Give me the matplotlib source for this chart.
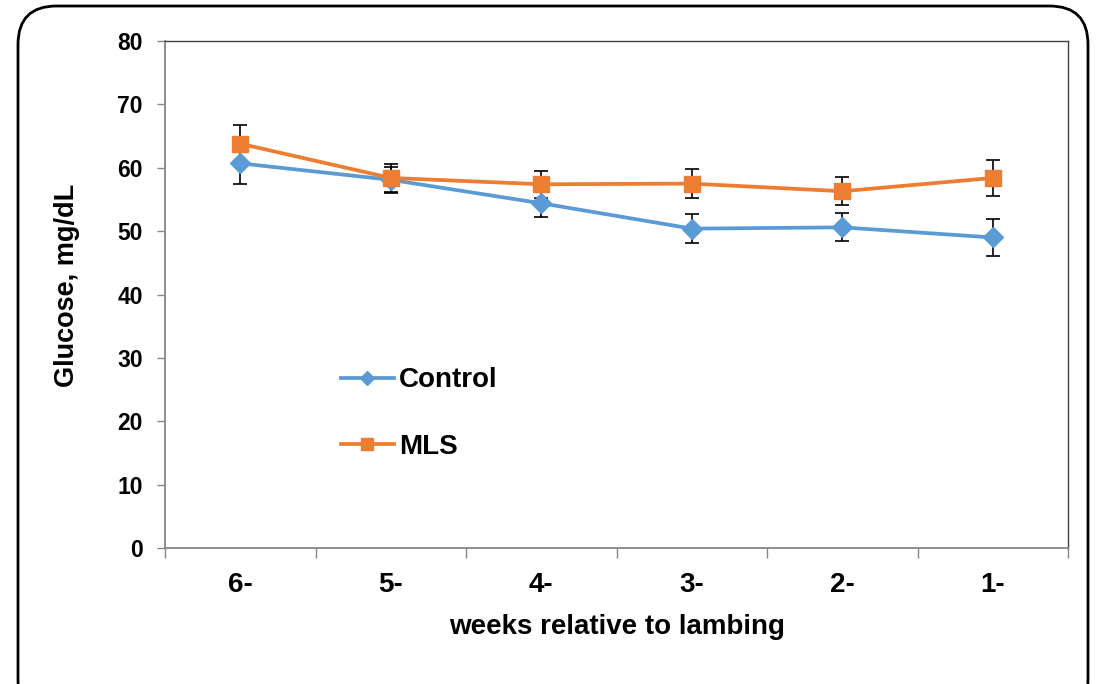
import matplotlib

matplotlib.use("Agg")
import matplotlib.pyplot as plt
from matplotlib.patches import FancyBboxPatch

plt.rcParams["font.family"] = ["Liberation Sans", "DejaVu Sans"]
plt.rcParams["font.weight"] = "bold"

weeks = ["6-", "5-", "4-", "3-", "2-", "1-"]
control = [60.7, 58.1, 54.4, 50.4, 50.6, 49.0]
control_se = [3.3, 2.1, 2.2, 2.3, 2.2, 2.9]
mls = [63.8, 58.4, 57.4, 57.5, 56.3, 58.4]
mls_se = [2.9, 2.2, 2.1, 2.3, 2.2, 2.8]
y_ticks = [0, 10, 20, 30, 40, 50, 60, 70, 80]

BLUE = "#5B9BD5"
ORANGE = "#ED7D31"

fig = plt.figure(figsize=(11.02, 6.84), dpi=100)
ax = fig.add_axes([0.1497, 0.1988, 0.8196, 0.7412])

# rounded frame around the whole chart
frame = FancyBboxPatch(
    (18 / 1102, -0.05),
    1070 / 1102,
    1.05 - 6 / 684,
    boxstyle="round,pad=0,rounding_size=0.035",
    transform=fig.transFigure,
    facecolor="none",
    edgecolor="black",
    linewidth=2,
    mutation_aspect=1102 / 684,
)
fig.patches.append(frame)

x = list(range(len(weeks)))
ax.errorbar(x, control, yerr=control_se, fmt="none", ecolor="black",
            elinewidth=1.2, capsize=5, capthick=1.2, zorder=2)
ax.errorbar(x, mls, yerr=mls_se, fmt="none", ecolor="black",
            elinewidth=1.2, capsize=5, capthick=1.2, zorder=2)
ax.plot(x, control, color=BLUE, linewidth=2.7, marker="D", markersize=10,
        label="Control", zorder=3)
ax.plot(x, mls, color=ORANGE, linewidth=2.7, marker="s", markersize=11,
        label="MLS", zorder=4)

ax.set_xlim(-0.5, len(weeks) - 0.5)
ax.set_ylim(0, 80)
ax.set_yticks(y_ticks)
ax.set_yticklabels([str(v) for v in y_ticks], fontsize=16.5, fontweight="bold")
ax.set_xticks(x)
ax.set_xticklabels(weeks, fontsize=20, fontweight="bold")
ax.set_xticks([i - 0.5 for i in range(len(weeks) + 1)], minor=True)
ax.tick_params(axis="x", which="major", length=0, pad=17)
ax.tick_params(axis="x", which="minor", length=7, color="#868686", width=1)
ax.tick_params(axis="y", length=6, color="#868686", width=1, pad=10)

for side in ["left", "bottom"]:
    ax.spines[side].set_color("#868686")
    ax.spines[side].set_linewidth(1.3)
for side in ["top", "right"]:
    ax.spines[side].set_color("#404040")
    ax.spines[side].set_linewidth(1.0)

ax.set_xlabel("weeks relative to lambing", fontsize=20, fontweight="bold",
              labelpad=12)
ax.set_ylabel("Glucose, mg/dL", fontsize=19.5, fontweight="bold")
ax.yaxis.set_label_coords(-0.094, 0.519)

ax.legend(loc="center left", bbox_to_anchor=(0.167, 0.265), frameon=False,
          handlelength=1.9, handletextpad=0.2, labelspacing=1.46,
          markerscale=0.75, prop={"weight": "bold", "size": 20})

fig.savefig("out.png", dpi=100)
